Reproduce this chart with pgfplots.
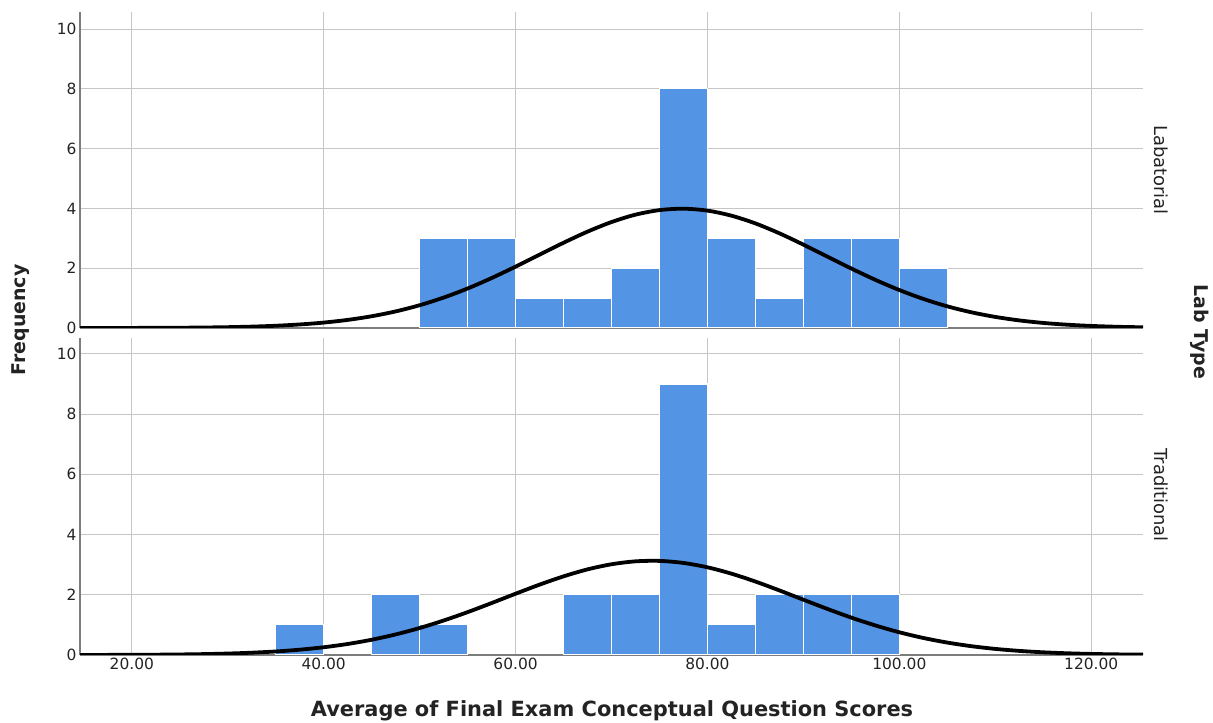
\documentclass[border=0pt]{standalone}
\usepackage{pgfplots}
\pgfplotsset{compat=1.18}
\usepackage{fontspec}
\setmainfont{DejaVu Sans}

\definecolor{barblue}{RGB}{84,148,229}
\definecolor{gridgray}{RGB}{198,198,198}
\definecolor{axisgray}{RGB}{125,125,125}
\definecolor{labelgray}{RGB}{35,35,35}

\pgfplotsset{
  panel/.style={
    scale only axis,
    width=1063bp,
    xmin=14.6, xmax=125.4, ymin=0,
    axis x line*=bottom, axis y line*=left,
    axis line style={-, axisgray, line width=1.3bp},
    xtick={20,40,...,120}, ytick={0,2,...,10},
    xmajorgrids, ymajorgrids,
    grid style={gridgray, line width=1bp},
    major tick length=0pt,
    /pgf/number format/assume math mode=true,
    yticklabel style={font=\fontsize{15.5}{17}\selectfont, text=labelgray},
    xticklabel style={font=\fontsize{15.5}{17}\selectfont, text=labelgray},
    xticklabel={\pgfmathprintnumber[fixed,fixed zerofill,precision=2]{\tick}},
  },
  hist/.style={ybar, bar width=5, bar shift=0pt, fill=barblue, draw=white, line width=1.2bp},
  normal/.style={black, line width=3.8bp, smooth},
}

\begin{document}
\begin{tikzpicture}
\path[use as bounding box] (0,0) rectangle (1213bp,723bp);

% Labatorial panel
\begin{axis}[panel, at={(80bp,395bp)}, anchor=south west,
  height=316bp, ymax=10.57, xticklabels={}]
  \addplot[hist] coordinates {
    (52.5,3) (57.5,3) (62.5,1) (67.5,1) (72.5,2) (77.5,8)
    (82.5,3) (87.5,1) (92.5,3) (97.5,3) (102.5,2)};
  \addplot[normal] coordinates {
    (12.5,0.0004) (15,0.0007) (17.5,0.0014) (20,0.0027) (22.5,0.0050)
    (25,0.0091) (27.5,0.0161) (30,0.0276) (32.5,0.0461) (35,0.0748)
    (37.5,0.1181) (40,0.1811) (42.5,0.2706) (45,0.3929) (47.5,0.5547)
    (50,0.7617) (52.5,1.017) (55,1.321) (57.5,1.670) (60,2.052)
    (62.5,2.452) (65,2.851) (67.5,3.223) (70,3.544) (72.5,3.791)
    (75,3.943) (77.5,3.990) (80,3.926) (82.5,3.757) (85,3.498)
    (87.5,3.167) (90,2.788) (92.5,2.388) (95,1.989) (97.5,1.611)
    (100,1.270) (102.5,0.973) (105,0.725) (107.5,0.526) (110,0.371)
    (112.5,0.254) (115,0.1695) (117.5,0.110) (120,0.0694) (122.5,0.0426)
    (125,0.0254) (127.5,0.0148)};
\end{axis}

% Traditional panel
\begin{axis}[panel, at={(80bp,68bp)}, anchor=south west,
  height=317bp, ymax=10.53]
  \addplot[hist] coordinates {
    (37.5,1) (47.5,2) (52.5,1) (67.5,2) (72.5,2) (77.5,9)
    (82.5,1) (87.5,2) (92.5,2) (97.5,2)};
  \addplot[normal] coordinates {
    (12.5,0.0009) (15,0.0018) (17.5,0.0033) (20,0.0059) (22.5,0.0104)
    (25,0.0178) (27.5,0.0297) (30,0.0482) (32.5,0.0763) (35,0.1175)
    (37.5,0.1763) (40,0.2575) (42.5,0.366) (45,0.507) (47.5,0.683)
    (50,0.896) (52.5,1.145) (55,1.424) (57.5,1.725) (60,2.035)
    (62.5,2.337) (65,2.612) (67.5,2.844) (70,3.014) (72.5,3.111)
    (75,3.126) (77.5,3.058) (80,2.913) (82.5,2.702) (85,2.440)
    (87.5,2.145) (90,1.836) (92.5,1.531) (95,1.242) (97.5,0.982)
    (100,0.755) (102.5,0.566) (105,0.413) (107.5,0.293) (110,0.2026)
    (112.5,0.1364) (115,0.0894) (117.5,0.0571) (120,0.0355) (122.5,0.0215)
    (125,0.0126) (127.5,0.0073)};
\end{axis}

% shared titles
\node[rotate=90, font=\bfseries\fontsize{19}{22}\selectfont, text=labelgray]
  at (21bp,403bp) {Frequency};
\node[font=\bfseries\fontsize{21}{24}\selectfont, text=labelgray]
  at (612bp,12bp) {Average of Final Exam Conceptual Question Scores};
\node[rotate=-90, font=\fontsize{18}{20}\selectfont, text=labelgray]
  at (1161bp,553bp) {Labatorial};
\node[rotate=-90, font=\fontsize{18}{20}\selectfont, text=labelgray]
  at (1161bp,228bp) {Traditional};
\node[rotate=-90, font=\bfseries\fontsize{19}{22}\selectfont, text=labelgray]
  at (1200bp,391bp) {Lab Type};
\end{tikzpicture}
\end{document}
